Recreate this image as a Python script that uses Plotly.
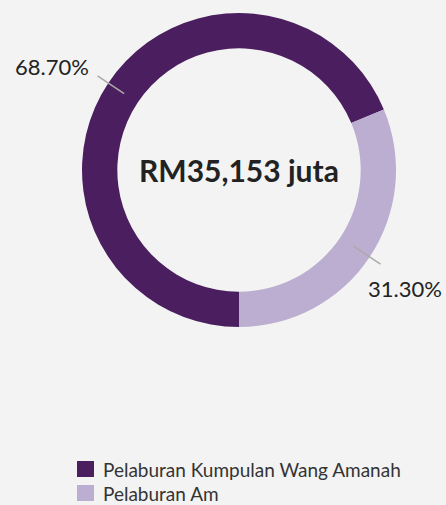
import math
import plotly.graph_objects as go

labels = ["Pelaburan Kumpulan Wang Amanah", "Pelaburan Am"]
values = [68.70, 31.30]
colors = ["#4b1f5f", "#bcaed1"]
center_text = "RM35,153 juta"

W, H = 446, 505
CX, CY, R = 239, 170, 157
FONT = "Lato, 'Open Sans', sans-serif"

def px(x):
    return x / W

def py(y):
    return 1 - y / H

fig = go.Figure(go.Pie(
    labels=labels, values=values, hole=0.775, sort=False,
    direction="clockwise", rotation=180,
    marker=dict(colors=colors, line=dict(width=0)),
    textinfo="none", hoverinfo="label+percent", showlegend=False,
    domain=dict(x=[px(CX - R), px(CX + R)], y=[py(CY + R), py(CY - R)]),
))

shapes = []
annotations = [dict(text=f"<b>{center_text}</b>", x=px(CX), y=py(CY), xref="paper", yref="paper",
                    showarrow=False, font=dict(size=30, color="#222222", family=FONT))]

total = sum(values)
start = 180.0
for v in values:
    span = v / total * 360
    mid = math.radians(start + span / 2)
    start += span
    dx, dy = math.sin(mid), -math.cos(mid)
    x0, y0 = CX + dx * 138, CY + dy * 138
    x1, y1 = CX + dx * 170, CY + dy * 170
    shapes.append(dict(type="line", xref="paper", yref="paper", x0=px(x0), y0=py(y0), x1=px(x1), y1=py(y1),
                       line=dict(color="#aaaaaa", width=1.5)))
    if dx < 0:
        tx, ty, anchor = x1 - 7, y1 - 9, "right"
    else:
        tx, ty, anchor = x1 - 14, y1 + 24, "left"
    annotations.append(dict(text=f"{v:.2f}%", x=px(tx), y=py(ty), xref="paper", yref="paper",
                            xanchor=anchor, yanchor="middle", showarrow=False,
                            font=dict(size=22, color="#222222", family=FONT)))

# legend
for i, (lab, col) in enumerate(zip(labels, colors)):
    top = 461 + 24 * i
    shapes.append(dict(type="rect", xref="paper", yref="paper", x0=px(77), x1=px(94), y0=py(top + 16), y1=py(top),
                       fillcolor=col, line=dict(width=0)))
    annotations.append(dict(text=lab, x=px(101), y=py(top + 8), xref="paper", yref="paper", xanchor="left",
                            yanchor="middle", showarrow=False, font=dict(size=19, color="#333333", family=FONT)))

fig.update_layout(
    width=W, height=H, margin=dict(l=0, r=0, t=0, b=0),
    paper_bgcolor="#f3f3f3", plot_bgcolor="#f3f3f3",
    shapes=shapes, annotations=annotations, showlegend=False,
)
fig.write_html("out.html", config={"displayModeBar": False},
               post_script="document.body.style.margin='0';document.body.style.background='#f3f3f3';")
